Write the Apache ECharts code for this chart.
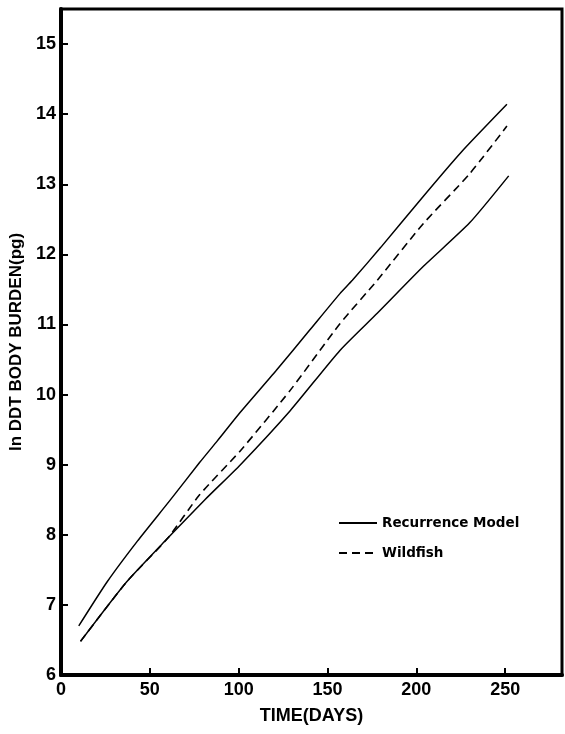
<!DOCTYPE html>
<html>
<head>
<meta charset="utf-8">
<script src="https://cdn.jsdelivr.net/npm/echarts@6/dist/echarts.min.js"></script>
<style>html,body{margin:0;padding:0;background:#fff}#c{width:565px;height:734px}</style>
</head>
<body>
<div id="c"></div>
<script>
// Recurrence model, upper curve
const upperDays = [10, 26, 43, 61, 78, 88, 100, 121, 140, 157, 164, 180, 204, 225, 251];
const upperVals = [6.70, 7.33, 7.91, 8.48, 9.03, 9.34, 9.72, 10.34, 10.92, 11.44, 11.63, 12.10, 12.83, 13.45, 14.14];
// Recurrence model, lower curve
const lowerDays = [11, 37, 60, 81, 101, 129, 157, 178, 204, 230, 252];
const lowerVals = [6.48, 7.33, 7.95, 8.50, 9.00, 9.77, 10.63, 11.16, 11.83, 12.45, 13.12];
// Wildfish
const wildDays = [11, 37, 60, 78, 101, 129, 157, 178, 204, 230, 251];
const wildVals = [6.48, 7.33, 7.95, 8.57, 9.20, 10.06, 11.01, 11.63, 12.44, 13.15, 13.83];

const xTicks = [0, 50, 100, 150, 200, 250];
const yTicks = [6, 7, 8, 9, 10, 11, 12, 13, 14, 15];

function pairs(d, v) { return d.map((x, i) => [x, v[i]]); }

const chart = echarts.init(document.getElementById('c'), null, {renderer: 'canvas'});
const font = '"Liberation Sans", Arial, sans-serif';
chart.setOption({
  backgroundColor: '#fff',
  animation: false,
  grid: {left: 61, right: 3, top: 9, bottom: 59, show: true, borderColor: '#000', borderWidth: 3},
  xAxis: {
    type: 'value', min: 0, max: 282, interval: 50,
    axisLine: {show: true, onZero: false, lineStyle: {color: '#000', width: 4}},
    axisTick: {show: true, inside: true, length: 7, lineStyle: {color: '#000', width: 2}},
    splitLine: {show: false},
    axisLabel: {color: '#000', fontFamily: font, fontWeight: 'bold', fontSize: 18, margin: 6,
      showMaxLabel: false, formatter: v => xTicks.includes(v) ? String(v) : ''},
    name: 'TIME(DAYS)', nameLocation: 'middle', nameGap: 32,
    nameTextStyle: {color: '#000', fontFamily: font, fontWeight: 'bold', fontSize: 18}
  },
  yAxis: {
    type: 'value', min: 6, max: 15.5, interval: 1,
    axisLine: {show: true, onZero: false, lineStyle: {color: '#000', width: 4}},
    axisTick: {show: true, inside: true, length: 7, lineStyle: {color: '#000', width: 2}},
    splitLine: {show: false},
    axisLabel: {color: '#000', fontFamily: font, fontWeight: 'bold', fontSize: 18, margin: 5,
      showMaxLabel: false, formatter: v => yTicks.includes(v) ? String(v) : ''},
    name: 'ln DDT BODY BURDEN(pg)', nameLocation: 'middle', nameGap: 35, nameRotate: 90,
    nameTextStyle: {color: '#000', fontFamily: font, fontWeight: 'bold', fontSize: 17}
  },
  legend: {
    data: ['Recurrence Model', 'Wildfish'],
    orient: 'vertical', left: 333, top: 511, itemWidth: 38, itemHeight: 10, itemGap: 16,
    itemStyle: {opacity: 0},
    textStyle: {color: '#000', fontFamily: '"DejaVu Sans", sans-serif', fontWeight: 'bold', fontSize: 13.5}
  },
  series: [
    {name: 'Recurrence Model', type: 'line', data: pairs(upperDays, upperVals), symbol: 'none', smooth: 0.2,
      lineStyle: {color: '#000', width: 1.5, type: 'solid'}, itemStyle: {color: '#000'}},
    {name: 'Recurrence Model', type: 'line', data: pairs(lowerDays, lowerVals), symbol: 'none', smooth: 0.2,
      lineStyle: {color: '#000', width: 1.5, type: 'solid'}, itemStyle: {color: '#000'}},
    {name: 'Wildfish', type: 'line', data: pairs(wildDays, wildVals), symbol: 'none', smooth: 0.2,
      lineStyle: {color: '#000', width: 1.6, type: [8, 5]}, itemStyle: {color: '#000'}}
  ]
});
</script>
</body>
</html>
